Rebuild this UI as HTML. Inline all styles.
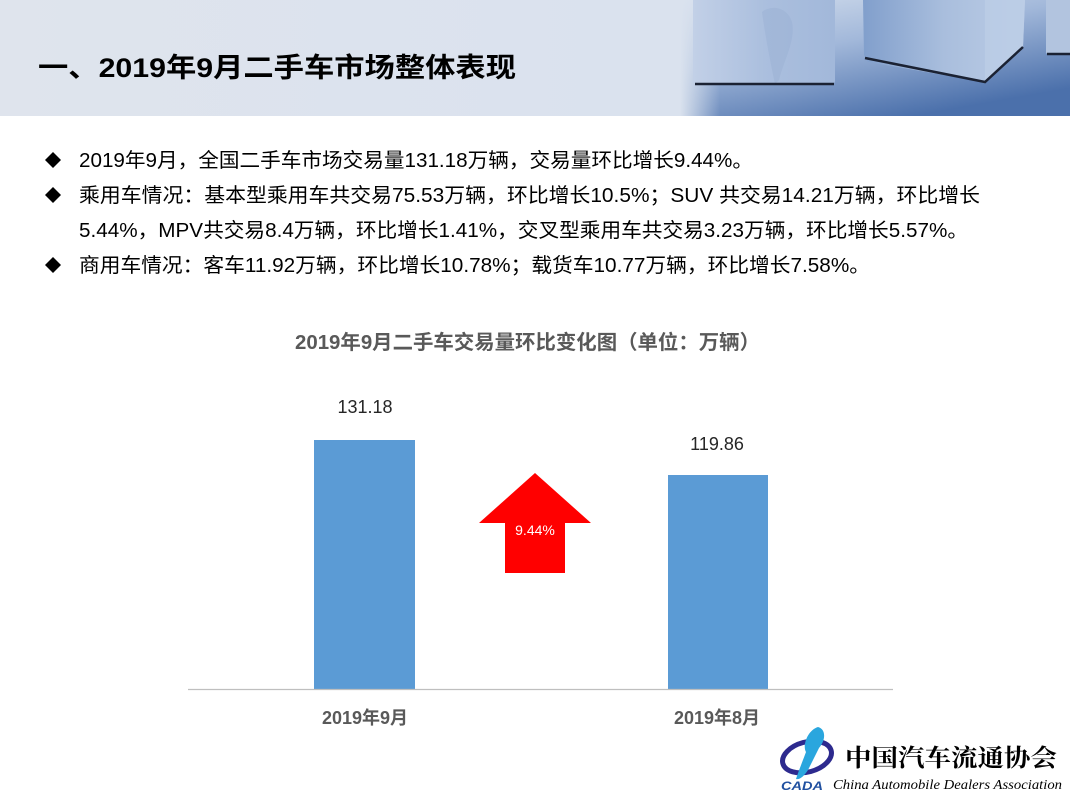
<!DOCTYPE html>
<html><head><meta charset="utf-8"><style>
html,body{margin:0;padding:0;background:#fff;}
svg{display:block;}
text{font-family:"Liberation Sans","Noto Sans CJK SC",sans-serif;}
</style></head><body>
<svg width="1070" height="800" viewBox="0 0 1070 800" xmlns="http://www.w3.org/2000/svg">
<defs>
<linearGradient id="hdr" x1="0" y1="0" x2="1" y2="0">
<stop offset="0" stop-color="#dfe4ed"/><stop offset="0.6" stop-color="#dae2ee"/><stop offset="1" stop-color="#d6dfec"/>
</linearGradient>
<linearGradient id="floor" x1="0" y1="0" x2="0.6" y2="1">
<stop offset="0" stop-color="#d6e0ee"/><stop offset="0.45" stop-color="#a2b8da"/><stop offset="1" stop-color="#4b70ab"/>
</linearGradient>
<linearGradient id="fade" x1="0" y1="0" x2="1" y2="0">
<stop offset="0" stop-color="#dae2ee" stop-opacity="1"/><stop offset="1" stop-color="#dae2ee" stop-opacity="0"/>
</linearGradient>
<linearGradient id="c1" x1="0" y1="0" x2="1" y2="0">
<stop offset="0" stop-color="#c2d0e7"/><stop offset="0.5" stop-color="#abbfde"/><stop offset="1" stop-color="#a2b8da"/>
</linearGradient>
<linearGradient id="c2" x1="0" y1="0" x2="1" y2="0">
<stop offset="0" stop-color="#819fcc"/><stop offset="0.5" stop-color="#a9bedd"/><stop offset="1" stop-color="#bccde6"/>
</linearGradient>
</defs>

<!-- header -->
<rect x="0" y="0" width="1070" height="116" fill="url(#hdr)"/>
<rect x="680" y="0" width="390" height="116" fill="url(#floor)"/>
<rect x="680" y="0" width="40" height="116" fill="url(#fade)"/>
<!-- cube 1 -->
<rect x="693" y="-5" width="142" height="89" rx="3" fill="url(#c1)"/>
<path d="M762 12 C772 4 788 8 792 22 C796 40 784 60 779 80 L775 84 C770 60 766 40 762 12Z" fill="#98afd3" opacity="0.45"/>
<line x1="695" y1="84" x2="834" y2="84" stroke="#1b2233" stroke-width="2.5"/>
<!-- cube 2 -->
<polygon points="863,0 1025,0 1023,47 985,82 868,62 864,55" fill="url(#c2)"/>
<polygon points="985,0 1025,0 1023,47 985,82" fill="#bccde6" opacity="0.8"/>
<polyline points="865,58 985,82 1023,47" fill="none" stroke="#1b2233" stroke-width="2.5"/>
<!-- cube 3 -->
<rect x="1046" y="-3" width="30" height="57" rx="2" fill="#b2c4df"/>
<line x1="1047" y1="54" x2="1070" y2="54" stroke="#1b2233" stroke-width="2.5"/>

<text x="38" y="77" font-size="27" font-weight="bold" fill="#000" textLength="478" lengthAdjust="spacingAndGlyphs">一、2019年9月二手车市场整体表现</text>

<!-- bullets -->
<g fill="#000">
<polygon points="53,152 61,160 53,168 45,160"/>
<polygon points="53,187 61,195 53,203 45,195"/>
<polygon points="53,257 61,265 53,273 45,265"/>
</g>
<g font-size="20" fill="#000">
<text x="79" y="167" textLength="674" lengthAdjust="spacingAndGlyphs">2019年9月，全国二手车市场交易量131.18万辆，交易量环比增长9.44%。</text>
<text x="79" y="202" textLength="901" lengthAdjust="spacingAndGlyphs">乘用车情况：基本型乘用车共交易75.53万辆，环比增长10.5%；SUV 共交易14.21万辆，环比增长</text>
<text x="79" y="237" textLength="889" lengthAdjust="spacingAndGlyphs">5.44%，MPV共交易8.4万辆，环比增长1.41%，交叉型乘用车共交易3.23万辆，环比增长5.57%。</text>
<text x="79" y="272" textLength="791" lengthAdjust="spacingAndGlyphs">商用车情况：客车11.92万辆，环比增长10.78%；载货车10.77万辆，环比增长7.58%。</text>
</g>

<!-- chart -->
<text x="295" y="349" font-size="20" font-weight="bold" fill="#595959" textLength="465" lengthAdjust="spacingAndGlyphs">2019年9月二手车交易量环比变化图（单位：万辆）</text>
<rect x="314" y="440" width="101" height="249" fill="#5b9bd5"/>
<rect x="668" y="475" width="100" height="214" fill="#5b9bd5"/>
<line x1="188" y1="689.5" x2="893" y2="689.5" stroke="#bfbfbf" stroke-width="1.2"/>
<text x="365" y="413" font-size="18" fill="#262626" text-anchor="middle">131.18</text>
<text x="717" y="450" font-size="18" fill="#262626" text-anchor="middle">119.86</text>
<text x="365" y="724" font-size="18" font-weight="bold" fill="#595959" text-anchor="middle">2019年9月</text>
<text x="717" y="724" font-size="18" font-weight="bold" fill="#595959" text-anchor="middle">2019年8月</text>

<!-- arrow -->
<polygon points="535,473 591,523 565,523 565,573 505,573 505,523 479,523" fill="#ff0000"/>
<text x="535" y="535" font-size="14" fill="#fff" text-anchor="middle">9.44%</text>

<!-- logo -->
<ellipse cx="807" cy="757" rx="25" ry="15" transform="rotate(-15 807 757)" fill="none" stroke="#2d2a8e" stroke-width="5"/>
<path d="M818 727 C826 729 826 740 819 748 L808 770 C804 776 800 780 796 779 C799 770 803 760 806 752 C802 745 808 730 818 727Z" fill="#2aa6de"/>
<text x="781" y="790" font-size="12" font-weight="bold" font-style="italic" fill="#2050a0" textLength="42" lengthAdjust="spacingAndGlyphs">CADA</text>
<text x="845" y="766" font-size="24" font-weight="bold" fill="#000" style="font-family:'Noto Serif CJK SC',serif" textLength="212" lengthAdjust="spacingAndGlyphs">中国汽车流通协会</text>
<text x="833" y="789" font-size="14" font-style="italic" fill="#000" style="font-family:'Liberation Serif',serif" textLength="229" lengthAdjust="spacingAndGlyphs">China Automobile Dealers Association</text>
</svg>
</body></html>
